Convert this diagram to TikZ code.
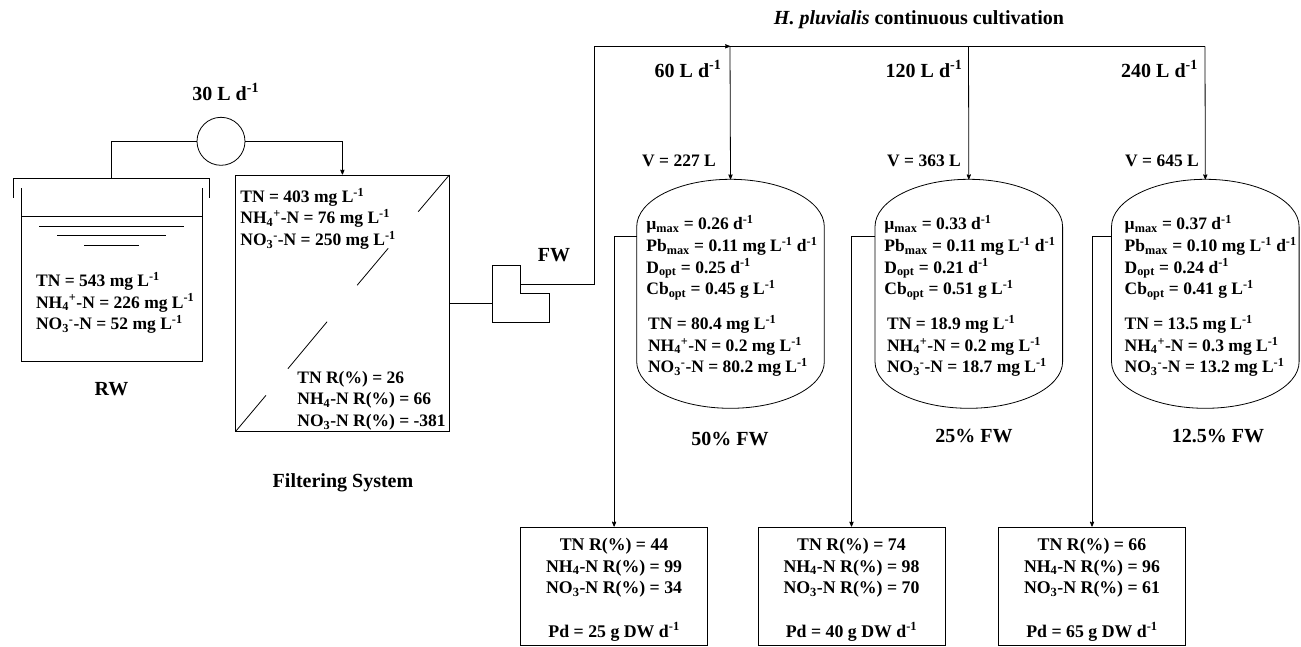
\documentclass[tikz,border=0pt]{standalone}
\usepackage{fontspec}
\setmainfont{Liberation Serif}
\usetikzlibrary{arrows,positioning}
\newcommand{\mgL}{mg L\textsuperscript{-1}}
\newcommand{\gL}{g L\textsuperscript{-1}}
\newcommand{\perd}{d\textsuperscript{-1}}
\newcommand{\nhp}{NH\textsubscript{4}\textsuperscript{+}-N}
\newcommand{\nom}{NO\textsubscript{3}\textsuperscript{-}-N}
\newcommand{\nh}{NH\textsubscript{4}-N}
\newcommand{\no}{NO\textsubscript{3}-N}
\tikzset{
  wire/.style={line width=0.8pt},
  txt/.style={inner sep=0pt,font=\fontsize{17.5}{21.6}\selectfont\bfseries,align=left,anchor=north west},
  lbl/.style={inner sep=0pt,font=\fontsize{20}{24}\selectfont\bfseries,anchor=base},
  vol/.style={inner sep=0pt,font=\fontsize{17.5}{21.6}\selectfont\bfseries,anchor=base},
  res/.style={draw,line width=0.8pt,minimum width=187pt,minimum height=118.5pt,inner sep=0pt},
  restxt/.style={inner sep=0pt,font=\fontsize{17.8}{21.6}\selectfont\bfseries,align=center,anchor=north}
}
\begin{document}
\begin{tikzpicture}[x=1pt,y=-1pt,>=stealth',shorten >=0pt,wire]
  \useasboundingbox (0,0) rectangle (1301,646);

  % raw water tank
  \node[draw,circle,inner sep=0pt,minimum size=48pt] (pump) at (221,141.3) {};
  \coordinate (lid) at (111.4,178.3);
  \draw (13.6,197.7) -- (13.6,178.3) -- (209.6,178.3) -- (209.6,197.7);
  \draw (21.4,188) -- (21.4,361.3) -- (202.5,361.3) -- (202.5,188);
  \draw (21.4,216.7) -- (202.5,216.7);
  \draw (39.3,226) -- (184.3,226);
  \draw (57,235.7) -- (166,235.7);
  \draw (84,245.3) -- (139,245.3);
  \node[txt] (rwtxt) at (35.7,271.1) {\strut TN = 543 \mgL\\\nhp{} = 226 \mgL\\\nom{} = 52 \mgL};
  \node[lbl] (rw) at (111.4,395) {RW};
  \node[lbl] (flow) at (225.7,100) {30 L \perd};

  % filter
  \node[draw,minimum width=214pt,minimum height=256.7pt,inner sep=0pt] (filter) at (342.4,303.3) {};
  \draw (449.3,175) -- (418.2,211.7);
  \draw (388.2,248.3) -- (357.1,285.3);
  \draw (327.1,321.7) -- (287.9,368.7);
  \draw (266,395.3) -- (235.4,431.7);
  \node[txt] (fin) at (240,186.8) {\strut TN = 403 \mgL\\\nhp{} = 76 \mgL\\\nom{} = 250 \mgL};
  \node[txt] (frem) at (297,367.8) {\strut TN R(\%) = 26\\\nh{} R(\%) = 66\\\no{} R(\%) = -381};
  \node[lbl] (fsys) at (343,487) {Filtering System};

  \draw (pump.west) -| (lid);
  \draw[->] (pump.east) -| (filter.north);

  % filtered water tank
  \draw (492,265.3) -- (520.7,265.3) -- (520.7,293.7) -- (549,293.7) -- (549,322.3) -- (492,322.3) -- cycle;
  \coordinate (fwin) at (492,303.3);
  \coordinate (fwout) at (520.7,284.3);
  \draw (filter.east |- fwin) -- (fwin);
  \node[lbl] (fw) at (554,261.7) {FW};
  \node[lbl] (title) at (919,24) {\textit{H. pluvialis} continuous cultivation};

  % feed line
  \coordinate (bus) at (594.7,46.3);
  \coordinate (j1) at (730,46.3);
  \coordinate (j2) at (968.5,46.3);
  \coordinate (j3) at (1205,46.3);
  \draw[->] (fwout) -| (bus) -- (j1);
  \draw (j1) -- (j3);

  % vessels
  \foreach \n/\x in {a/730.5,b/968.8,c/1205.3}{
    \coordinate (v\n) at (\x,179.3);
    \coordinate (o\n) at (\x-93.8,236.3);
    \draw (\x-93.8,226.7) arc (180:360:93.8 and 47.4) -- (\x+93.8,361.7) arc (0:180:93.8 and 46.6) -- cycle;
  }
  \draw[->] (j1) -- (va);
  \draw[->] (j2) -- (vb);
  \draw[->] (j3) -- (vc);

  \node[lbl] (q1) at (688,77) {60 L \perd};
  \node[lbl] (q2) at (924,77) {120 L \perd};
  \node[lbl] (q3) at (1159.5,77) {240 L \perd};
  \node[vol] (v1) at (679,166) {V = 227 L};
  \node[vol] (v2) at (924,166) {V = 363 L};
  \node[vol] (v3) at (1162,166) {V = 645 L};

  \node[txt] (k1) at (646,214.4) {\strut µ\textsubscript{max} = 0.26 \perd\\Pb\textsubscript{max} = 0.11 \mgL{} \perd\\D\textsubscript{opt} = 0.25 \perd\\Cb\textsubscript{opt} = 0.45 \gL};
  \node[txt] (k2) at (884,214.4) {\strut µ\textsubscript{max} = 0.33 \perd\\Pb\textsubscript{max} = 0.11 \mgL{} \perd\\D\textsubscript{opt} = 0.21 \perd\\Cb\textsubscript{opt} = 0.51 \gL};
  \node[txt] (k3) at (1124.3,214.4) {\strut µ\textsubscript{max} = 0.37 \perd\\Pb\textsubscript{max} = 0.10 \mgL{} \perd\\D\textsubscript{opt} = 0.24 \perd\\Cb\textsubscript{opt} = 0.41 \gL};

  \node[txt] (n1) at (647.7,314.2) {\strut TN = 80.4 \mgL\\\nhp{} = 0.2 \mgL\\\nom{} = 80.2 \mgL};
  \node[txt] (n2) at (886.7,314.2) {\strut TN = 18.9 \mgL\\\nhp{} = 0.2 \mgL\\\nom{} = 18.7 \mgL};
  \node[txt] (n3) at (1124.3,314.2) {\strut TN = 13.5 \mgL\\\nhp{} = 0.3 \mgL\\\nom{} = 13.2 \mgL};

  \node[lbl] (p1) at (730,445.7) {50\% FW};
  \node[lbl] (p2) at (974,442.3) {25\% FW};
  \node[lbl] (p3) at (1218,442.3) {12.5\% FW};

  % result boxes
  \node[res] (r1) at (614.1,586.2) {};
  \node[res] (r2) at (851.5,586.2) {};
  \node[res] (r3) at (1092,586.2) {};

  \node[restxt] (t1) at (r1.north |- 0,535.2) {\strut TN R(\%) = 44\\\nh{} R(\%) = 99\\\no{} R(\%) = 34\\[21.6pt]Pd = 25 g DW \perd};
  \node[restxt] (t2) at (r2.north |- 0,535.2) {\strut TN R(\%) = 74\\\nh{} R(\%) = 98\\\no{} R(\%) = 70\\[21.6pt]Pd = 40 g DW \perd};
  \node[restxt] (t3) at (r3.north |- 0,535.2) {\strut TN R(\%) = 66\\\nh{} R(\%) = 96\\\no{} R(\%) = 61\\[21.6pt]Pd = 65 g DW \perd};

  \draw[->] (oa) -- (oa -| r1.north) -- (r1.north);
  \draw[->] (ob) -- (ob -| r2.north) -- (r2.north);
  \draw[->] (oc) -- (oc -| r3.north) -- (r3.north);
\end{tikzpicture}
\end{document}
